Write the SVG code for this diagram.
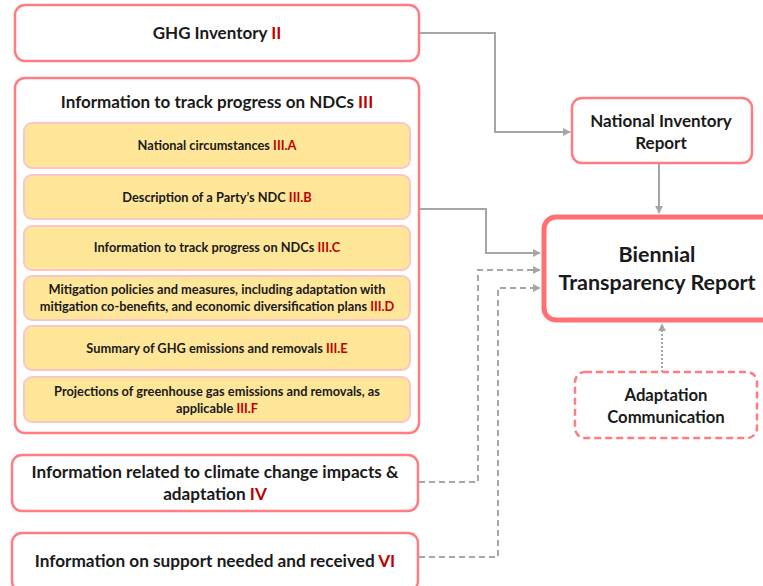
<svg xmlns="http://www.w3.org/2000/svg" width="763" height="586" viewBox="0 0 763 586">
<defs>
<style>
.box{fill:#fff;stroke:#ff7c80;stroke-width:2.5}
.sub{fill:#ffe699;stroke:#f9c6c9;stroke-width:2}
.t{font-family:Lato,"Liberation Sans",sans-serif;font-weight:bold;fill:#1a1a1a;text-anchor:middle}
.s{font-size:12.8px}
.r{fill:#c00000}
.c{fill:none;stroke:#a6a6a6;stroke-width:2}
.d{stroke-dasharray:6,4}
.o{stroke-dasharray:2,2}
</style>
<marker id="a" viewBox="0 0 10 10" refX="9" refY="5" markerWidth="4" markerHeight="4" orient="auto"><path d="M0,0L10,5L0,10z" fill="#a6a6a6"/></marker>
</defs>
<g id="connectors">
<path class="c" d="M419,33H495V132H570" marker-end="url(#a)"/>
<path class="c" d="M659,163V213" marker-end="url(#a)"/>
<path class="c" d="M419,209H486V253H540" marker-end="url(#a)"/>
<path class="c d" d="M419,482H478V270H540" marker-end="url(#a)"/>
<path class="c d" d="M419,557H498V288H540" marker-end="url(#a)"/>
<path class="c o" d="M662,372V324" marker-end="url(#a)"/>
</g>
<g id="ghg">
<rect class="box" x="15" y="5" width="404" height="56" rx="10"/>
<text class="t" x="217" y="39" font-size="17">GHG Inventory <tspan class="r">II</tspan></text>
</g>
<g id="ndc">
<rect class="box" x="15" y="78" width="404" height="355" rx="10"/>
<text class="t" x="217" y="108" font-size="17">Information to track progress on NDCs <tspan class="r">III</tspan></text>
</g>
<g id="iiia">
<rect class="sub" x="24" y="123" width="386" height="45" rx="8"/>
<text class="t s" x="217" y="150">National circumstances <tspan class="r">III.A</tspan></text>
</g>
<g id="iiib">
<rect class="sub" x="24" y="175" width="386" height="44" rx="8"/>
<text class="t s" x="217" y="202">Description of a Party’s NDC <tspan class="r">III.B</tspan></text>
</g>
<g id="iiic">
<rect class="sub" x="24" y="226" width="386" height="44" rx="8"/>
<text class="t s" x="217" y="252">Information to track progress on NDCs <tspan class="r">III.C</tspan></text>
</g>
<g id="iiid">
<rect class="sub" x="24" y="276" width="386" height="44" rx="8"/>
<text class="t s" x="217" y="294">Mitigation policies and measures, including adaptation with</text>
<text class="t s" x="217" y="311">mitigation co-benefits, and economic diversification plans <tspan class="r">III.D</tspan></text>
</g>
<g id="iiie">
<rect class="sub" x="24" y="326" width="386" height="44" rx="8"/>
<text class="t s" x="217" y="353">Summary of GHG emissions and removals <tspan class="r">III.E</tspan></text>
</g>
<g id="iiif">
<rect class="sub" x="24" y="377" width="386" height="45" rx="8"/>
<text class="t s" x="217" y="396">Projections of greenhouse gas emissions and removals, as</text>
<text class="t s" x="217" y="413">applicable <tspan class="r">III.F</tspan></text>
</g>
<g id="iv">
<rect class="box" x="12" y="455" width="406" height="56" rx="10"/>
<text class="t" x="215" y="478" font-size="17.2">Information related to climate change impacts &amp;</text>
<text class="t" x="215" y="500" font-size="17.2">adaptation <tspan class="r">IV</tspan></text>
</g>
<g id="vi">
<rect class="box" x="12" y="533" width="406" height="58" rx="10"/>
<text class="t" x="215" y="567" font-size="17.2">Information on support needed and received <tspan class="r">VI</tspan></text>
</g>
<g id="nir">
<rect class="box" x="572" y="98" width="180" height="65" rx="10"/>
<text class="t" x="661" y="127" font-size="17">National Inventory</text>
<text class="t" x="661" y="149" font-size="17">Report</text>
</g>
<g id="btr">
<rect x="544" y="217" width="230" height="103" rx="12" fill="#fff" stroke="#ff7070" stroke-width="5"/>
<text class="t" x="657" y="262" font-size="21.5">Biennial</text>
<text class="t" x="657" y="290" font-size="21.5">Transparency Report</text>
</g>
<g id="ac">
<rect class="box" x="575" y="372" width="182" height="66" rx="10" stroke-dasharray="7,4"/>
<text class="t" x="666" y="401" font-size="16.7">Adaptation</text>
<text class="t" x="666" y="423" font-size="16.7">Communication</text>
</g>
</svg>
